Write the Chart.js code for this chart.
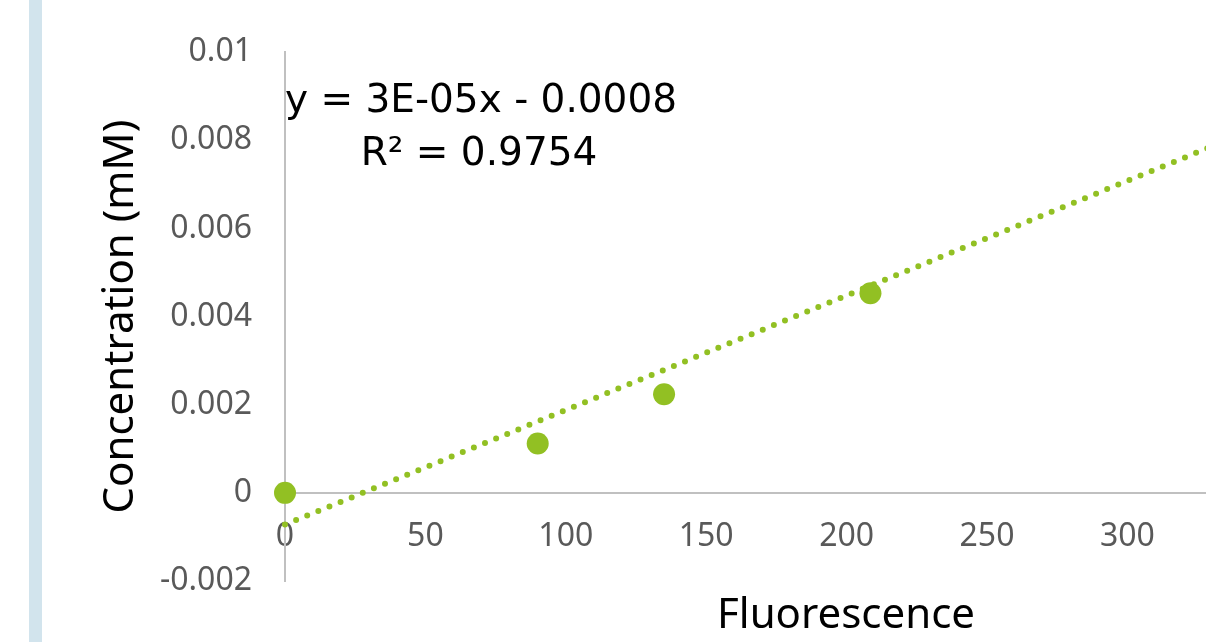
<!DOCTYPE html>
<html>
<head>
<meta charset="utf-8">
<script src="https://cdn.jsdelivr.net/npm/chart.js@4.4.1/dist/chart.umd.min.js"></script>
<style>
  html, body { margin: 0; padding: 0; background: #ffffff; overflow: hidden; }
  #wrap { position: relative; width: 1206px; height: 642px; }
  #bar { position: absolute; left: 29px; top: 0; width: 13px; height: 642px; background: #d2e4ed; }
  canvas { position: absolute; left: 0; top: 0; }
</style>
</head>
<body>
<div id="wrap">
  <div id="bar"></div>
  <canvas id="c" width="1206" height="642"></canvas>
</div>
<script>
// ---- data ----
const fluorescence = [0, 90, 135, 208.5];
const concentration = [0, 0.00112, 0.00224, 0.00453];
const trendX = [0, 330];
const trendY = [-0.00072, 0.00786];
const xTickValues = [0, 50, 100, 150, 200, 250, 300];
const yTickValues = [-0.002, 0, 0.002, 0.004, 0.006, 0.008, 0.01];
const yTickLabels = ['-0.002', '0', '0.002', '0.004', '0.006', '0.008', '0.01'];
const xTitle = 'Fluorescence';
const yTitle = 'Concentration (mM)';
const equationLines = ['y = 3E-05x - 0.0008', 'R\u00B2 = 0.9754'];

const green = '#92c023';
const tickFont = { family: '"Noto Sans", sans-serif', size: 32 };

const textPlugin = {
  id: 'texts',
  afterDraw(chart) {
    const ctx = chart.ctx;
    ctx.save();
    ctx.fillStyle = '#000000';
    ctx.font = '42px "Noto Sans", sans-serif';
    ctx.textAlign = 'center';
    ctx.textBaseline = 'alphabetic';
    ctx.fillText(xTitle, 846, 628);
    ctx.font = '39px "DejaVu Sans", sans-serif';
    ctx.fillText(equationLines[0], 481, 112);
    ctx.fillText(equationLines[1], 479, 165);
    ctx.restore();
  }
};

new Chart(document.getElementById('c'), {
  type: 'scatter',
  data: {
    datasets: [
      {
        label: 'trend',
        type: 'line',
        data: trendX.map((x, i) => ({ x: x, y: trendY[i] })),
        borderColor: green,
        borderWidth: 6,
        borderDash: [0, 12],
        borderCapStyle: 'round',
        pointRadius: 0,
        fill: false,
        clip: false,
        order: 1
      },
      {
        label: 'data',
        data: fluorescence.map((x, i) => ({ x: x, y: concentration[i] })),
        backgroundColor: green,
        borderColor: green,
        borderWidth: 0,
        pointRadius: 11,
        pointHoverRadius: 11,
        clip: false,
        order: 2
      }
    ]
  },
  options: {
    responsive: false,
    animation: false,
    events: [],
    layout: { autoPadding: false, padding: { left: 0, right: 0, top: 47, bottom: 61 } },
    plugins: { legend: { display: false }, tooltip: { enabled: false } },
    scales: {
      x: {
        type: 'linear',
        position: { y: 0 },
        min: 0,
        max: 328,
        afterBuildTicks: (s) => { s.ticks = xTickValues.map(v => ({ value: v })); },
        ticks: {
          font: tickFont,
          color: '#595959',
          padding: 25,
          maxRotation: 0,
          autoSkip: false,
          callback: (v) => String(v)
        },
        grid: { display: false, drawTicks: false },
        border: { display: true, color: '#c0c0c0', width: 2 }
      },
      y: {
        type: 'linear',
        position: 'left',
        min: -0.002,
        max: 0.01,
        afterBuildTicks: (s) => { s.ticks = yTickValues.map(v => ({ value: v })); },
        afterFit: (s) => { s.width = 285; },
        ticks: {
          font: tickFont,
          color: '#595959',
          padding: 33,
          autoSkip: false,
          callback: (v) => {
            const i = yTickValues.findIndex(t => Math.abs(t - v) < 1e-9);
            return i >= 0 ? yTickLabels[i] : '';
          }
        },
        title: {
          display: true,
          text: yTitle,
          color: '#000000',
          font: { family: '"Noto Sans", sans-serif', size: 42 },
          padding: { top: 96, bottom: 0 }
        },
        grid: { display: false, drawTicks: false },
        border: { display: true, color: '#c0c0c0', width: 2 }
      }
    }
  },
  plugins: [textPlugin]
});
</script>
</body>
</html>
